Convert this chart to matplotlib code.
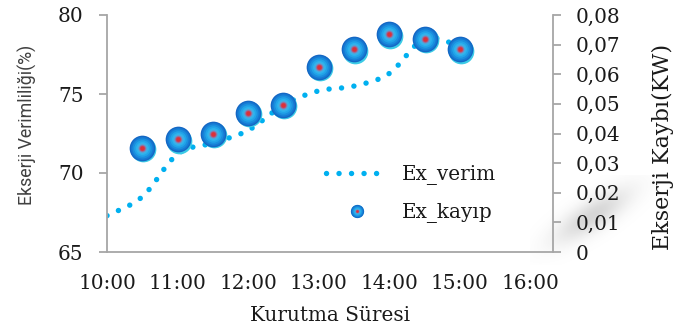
import numpy as np
import matplotlib
matplotlib.use("Agg")
import matplotlib.pyplot as plt
from matplotlib.path import Path
from matplotlib.patches import PathPatch
from matplotlib.lines import Line2D
from matplotlib.legend_handler import HandlerTuple
from matplotlib.transforms import ScaledTranslation

# ---- data -------------------------------------------------------------
verim_hours = [10.0, 10.5, 11.0, 11.5, 12.0, 12.5, 13.0, 13.5, 14.0, 14.5, 15.0]
ex_verim = [67.3, 68.5, 71.2, 71.9, 72.7, 74.3, 75.2, 75.5, 76.3, 78.5, 78.0]

kayip_hours = [10.5, 11.0, 11.5, 12.0, 12.5, 13.0, 13.5, 14.0, 14.5, 15.0]
ex_kayip = [0.0352, 0.0381, 0.0399, 0.0470, 0.0497, 0.0626, 0.0685, 0.0735, 0.0719, 0.0685]

x_ticks = [10, 11, 12, 13, 14, 15, 16]
x_tick_labels = ["10:00", "11:00", "12:00", "13:00", "14:00", "15:00", "16:00"]
left_ticks = [65, 70, 75, 80]
right_ticks = [0, 0.01, 0.02, 0.03, 0.04, 0.05, 0.06, 0.07, 0.08]
right_tick_labels = ["0", "0,01", "0,02", "0,03", "0,04", "0,05", "0,06", "0,07", "0,08"]

# ---- style ------------------------------------------------------------
SERIF = ["DejaVu Serif"]
FS = 14.4
SPINE = "#a6a6a6"
TEXT = "#1a1a1a"
LINE_BLUE = "#00b0f0"
DOT_STYLE = (0, (0.01, 2.3))

# radial colour stops of the glossy ball marker (fraction of diameter, colour)
BALL_STOPS = [
    (1.00, "#1467c4"),
    (0.90, "#1678d2"),
    (0.78, "#1a8ede"),
    (0.64, "#22a4e8"),
    (0.50, "#2db3ee"),
    (0.40, "#3fb2e6"),
    (0.32, "#6f8fc4"),
    (0.24, "#b4557a"),
    (0.17, "#dc3038"),
]

fig = plt.figure(figsize=(6.74, 3.31), dpi=100)
fig.patch.set_facecolor("white")

# soft grey smudge to the right of the secondary axis
SW, SH = 130, 90
sm_ax = fig.add_axes([530 / 674, 1 - 265 / 331, SW / 674, SH / 331], zorder=-5)
gx, gy = np.meshgrid(np.arange(SW), np.arange(SH))
cx, cy = 62.0, 40.0
ang = np.deg2rad(33)
u = (gx - cx) * np.cos(ang) - (gy - cy) * np.sin(ang)
v = (gx - cx) * np.sin(ang) + (gy - cy) * np.cos(ang)
alpha = 0.36 * np.exp(-0.5 * ((u / 30.0) ** 2 + (v / 10.0) ** 2))
rgba = np.zeros((SH, SW, 4))
rgba[..., :3] = 0.55
rgba[..., 3] = alpha
sm_ax.imshow(rgba, interpolation="bilinear", aspect="auto")
sm_ax.set_axis_off()

ax = fig.add_axes([107 / 674, 1 - 252 / 331, 446 / 674, 237 / 331])
ax.set_facecolor("none")
ax2 = ax.twinx()

# smoothed dotted efficiency curve (cubic Bezier segments through the points)
pts = np.column_stack([verim_hours, ex_verim])
n = len(pts)
verts = [tuple(pts[0])]
codes = [Path.MOVETO]
for i in range(n - 1):
    p_prev = pts[i - 1] if i > 0 else pts[i]
    p_next2 = pts[i + 2] if i + 2 < n else pts[i + 1]
    c1 = pts[i] + (pts[i + 1] - p_prev) / 6.0
    c2 = pts[i + 1] - (p_next2 - pts[i]) / 6.0
    verts += [tuple(c1), tuple(c2), tuple(pts[i + 1])]
    codes += [Path.CURVE4] * 3
curve = PathPatch(Path(verts, codes), fill=False, edgecolor=LINE_BLUE,
                  linewidth=3.9, linestyle=DOT_STYLE, capstyle="round",
                  transform=ax.transData)
ax.add_patch(curve)

# glossy ball markers for the exergy loss
D = 18.5
glow = ax2.transData + ScaledTranslation(1.0 / 100, -1.5 / 100, fig.dpi_scale_trans)
ax2.scatter(kayip_hours, ex_kayip, s=D ** 2, color="#3ccbe6", linewidths=0,
            transform=glow, zorder=3)
for frac, col in BALL_STOPS:
    ax2.scatter(kayip_hours, ex_kayip, s=(D * frac) ** 2, color=col,
                linewidths=0, zorder=4)

# axes limits, ticks and spines
ax.set_xlim(10, 16.32)
ax.set_ylim(65, 80)
ax2.set_ylim(0, 0.08)
ax.set_xticks(x_ticks)
ax.set_xticklabels(x_tick_labels, family=SERIF, fontsize=FS, color=TEXT)
ax.set_yticks(left_ticks)
ax.set_yticklabels([str(t) for t in left_ticks], family=SERIF, fontsize=FS,
                   color=TEXT)
ax2.set_yticks(right_ticks)
ax2.set_yticklabels(right_tick_labels, family=SERIF, fontsize=FS, color=TEXT)

for a in (ax, ax2):
    for s in a.spines.values():
        s.set_visible(False)
ax.spines["left"].set_visible(True)
ax.spines["bottom"].set_visible(True)
ax2.spines["right"].set_visible(True)
for s in (ax.spines["left"], ax.spines["bottom"], ax2.spines["right"]):
    s.set_color(SPINE)
    s.set_linewidth(1.3)

ax.tick_params(axis="x", length=0, pad=16)
ax.tick_params(axis="y", direction="out", length=6, width=1.3, color=SPINE, pad=11)
ax2.tick_params(axis="y", direction="out", length=6, width=1.3, color=SPINE, pad=10)

ax.set_xlabel("Kurutma Süresi", family=SERIF, fontsize=FS, color=TEXT,
              labelpad=9)
ax.set_ylabel("Ekserji Verimliliği(%)", family=["Roboto", "DejaVu Sans"],
              fontsize=12.8, color="#404040")
ax.yaxis.set_label_coords(-0.157, 0.536)
ax2.set_ylabel("Ekserji Kaybı(KW)", family=SERIF, fontsize=16, color=TEXT)
ax2.yaxis.set_label_coords(1.222, 0.443)

# legend
h_line = Line2D([], [], color=LINE_BLUE, linewidth=3.9, linestyle=DOT_STYLE,
                dash_capstyle="round")
dl = 9.5
h_ball = tuple(
    [Line2D([], [], linestyle="none", marker="o", markersize=dl,
            markerfacecolor="#3ccbe6", markeredgewidth=0)]
    + [Line2D([], [], linestyle="none", marker="o", markersize=dl * f,
              markerfacecolor=c, markeredgewidth=0) for f, c in BALL_STOPS]
)
leg = ax2.legend([h_line, h_ball], ["Ex_verim", "Ex_kayıp"],
                 handler_map={tuple: HandlerTuple(ndivide=1, pad=0)},
                 loc="upper left", bbox_to_anchor=(0.492, 0.367),
                 frameon=False, borderpad=0, borderaxespad=0,
                 handlelength=3.05, handletextpad=0.7, labelspacing=0.9,
                 prop={"family": SERIF, "size": FS})
for t in leg.get_texts():
    t.set_color(TEXT)

fig.savefig("out.png", dpi=100, facecolor="white")
